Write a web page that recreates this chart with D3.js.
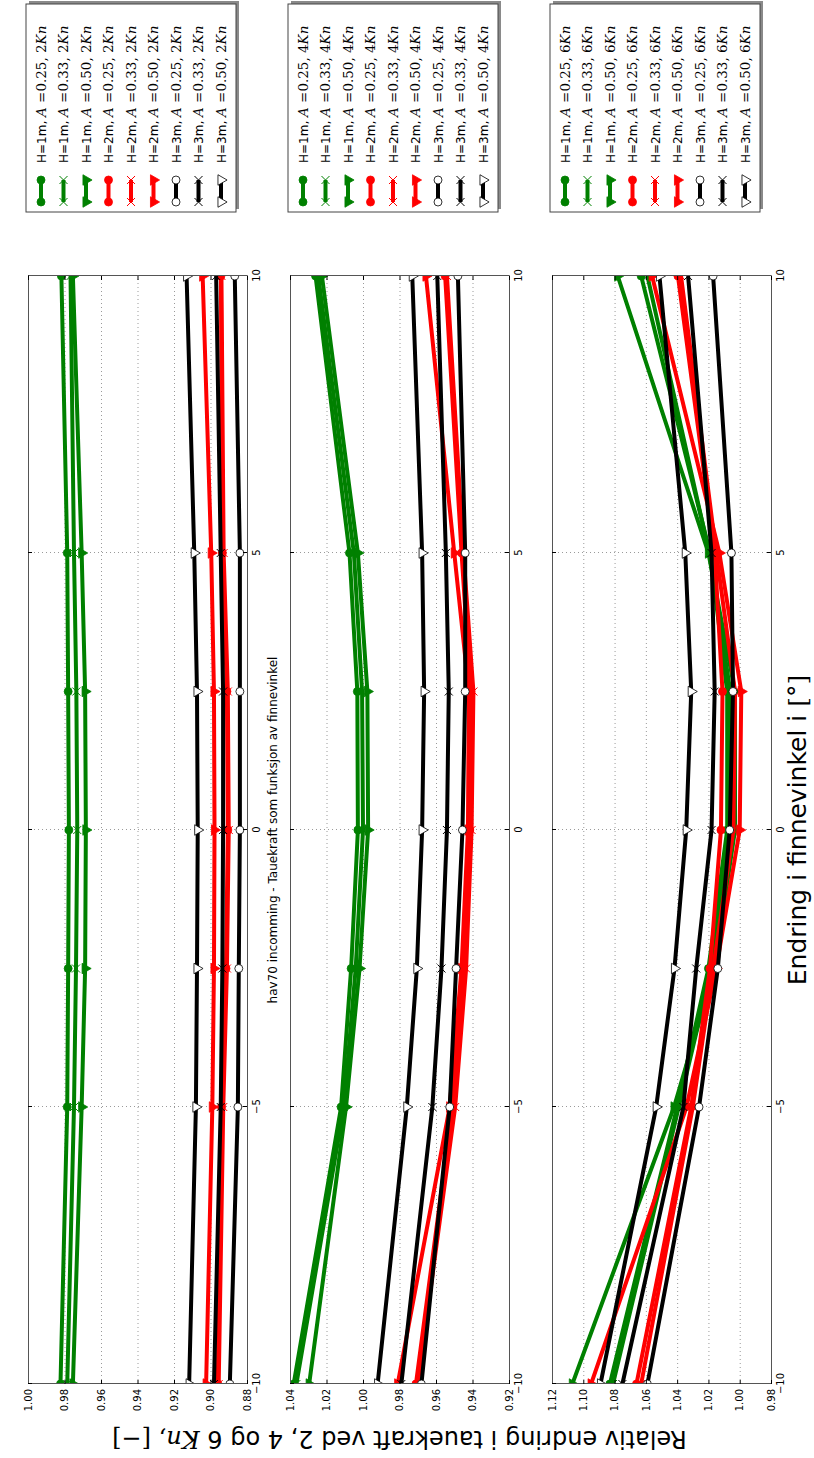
<!DOCTYPE html>
<html>
<head>
<meta charset="utf-8">
<script src="https://cdn.jsdelivr.net/npm/d3@7"></script>
<style>
  body { margin: 0; background: #fff; }
  svg { display: block; }
  text { font-family: "DejaVu Sans", sans-serif; fill: #000; }
  .math { font-family: "DejaVu Serif", "Liberation Serif", serif; }
</style>
</head>
<body>
<div id="chart"></div>
<script>
// Data: relative change in rope force vs. fin angle, for 2, 4 and 6 knots

const angles = [-10, -5, -2.5, 0, 2.5, 5, 10];
const xTicks = [-10, -5, 0, 5, 10];
const heights = ["1m", "2m", "3m"];
const areas = ["0.25", "0.33", "0.50"];
const speeds = ["2", "4", "6"];

// rows: H=1m A=.25, .33, .50 / H=2m ... / H=3m ...
const kn2 = [
  [0.9822, 0.9785, 0.9780, 0.9776, 0.9780, 0.9785, 0.9817],
  [0.9785, 0.9748, 0.9737, 0.9730, 0.9735, 0.9748, 0.9767],
  [0.9754, 0.9706, 0.9687, 0.9683, 0.9687, 0.9706, 0.9754],
  [0.8960, 0.8940, 0.8915, 0.8905, 0.8910, 0.8935, 0.8943],
  [0.8955, 0.8930, 0.8910, 0.8900, 0.8905, 0.8928, 0.8940],
  [0.9024, 0.8990, 0.8981, 0.8978, 0.8981, 0.8996, 0.9043],
  [0.8894, 0.8850, 0.8845, 0.8839, 0.8839, 0.8839, 0.8867],
  [0.8981, 0.8944, 0.8935, 0.8931, 0.8931, 0.8944, 0.8969],
  [0.9117, 0.9080, 0.9074, 0.9070, 0.9074, 0.9089, 0.9131],
];

const kn4 = [
  [1.0380, 1.0120, 1.0065, 1.0028, 1.0031, 1.0074, 1.0260],
  [1.0365, 1.0105, 1.0040, 1.0000, 1.0005, 1.0050, 1.0245],
  [1.0295, 1.0093, 1.0019, 0.9972, 0.9976, 1.0028, 1.0225],
  [0.9710, 0.9510, 0.9450, 0.9415, 0.9410, 0.9460, 0.9550],
  [0.9700, 0.9495, 0.9435, 0.9405, 0.9395, 0.9450, 0.9540],
  [0.9810, 0.9525, 0.9460, 0.9425, 0.9420, 0.9500, 0.9655],
  [0.9680, 0.9525, 0.9490, 0.9455, 0.9440, 0.9440, 0.9480],
  [0.9790, 0.9620, 0.9570, 0.9540, 0.9530, 0.9546, 0.9593],
  [0.9920, 0.9760, 0.9705, 0.9676, 0.9665, 0.9676, 0.9730],
];

const kn6 = [
  [1.0830, 1.0400, 1.0200, 1.0080, 1.0080, 1.0190, 1.0630],
  [1.0810, 1.0390, 1.0180, 1.0060, 1.0060, 1.0195, 1.0590],
  [1.1070, 1.0420, 1.0160, 1.0030, 1.0030, 1.0200, 1.0780],
  [1.0660, 1.0310, 1.0190, 1.0120, 1.0110, 1.0160, 1.0395],
  [1.0630, 1.0300, 1.0170, 1.0040, 1.0030, 1.0150, 1.0375],
  [1.0950, 1.0340, 1.0150, 1.0000, 0.9990, 1.0130, 1.0560],
  [1.0590, 1.0260, 1.0140, 1.0064, 1.0043, 1.0053, 1.0170],
  [1.0750, 1.0360, 1.0278, 1.0180, 1.0160, 1.0180, 1.0330],
  [1.0890, 1.0534, 1.0417, 1.0342, 1.0310, 1.0348, 1.0513],
];

const yTicks2 = [0.88, 0.90, 0.92, 0.94, 0.96, 0.98, 1.00];
const yTicks4 = [0.92, 0.94, 0.96, 0.98, 1.00, 1.02, 1.04];
const yTicks6 = [0.98, 1.00, 1.02, 1.04, 1.06, 1.08, 1.10, 1.12];

const panels = [
  { values: kn2, ticks: yTicks2, speed: speeds[0] },
  { values: kn4, ticks: yTicks4, speed: speeds[1] },
  { values: kn6, ticks: yTicks6, speed: speeds[2] },
];

// Figure is drawn unrotated (1458 x 814) and then turned 90 degrees
const figW = 1458;
const colors = ["#008000", "#ff0000", "#000000"];
const markers = ["circle", "x", "tri"];

const svg = d3
  .select("#chart")
  .append("svg")
  .attr("width", 814)
  .attr("height", 1458);

svg.append("rect").attr("width", 814).attr("height", 1458).attr("fill", "#fff");

const defs = svg.append("defs");
const fig = svg.append("g").attr("transform", `translate(0,${figW}) rotate(-90)`);

const plotLeft = 74;
const plotRight = 1182;
const panelTops = [28, 290, 552];
const panelH = 219;

const xScale = d3.scaleLinear().domain([-10, 10]).range([plotLeft, plotRight]);

function drawMarker(sel, kind, color, face, x, y) {
  if (kind === "circle") {
    sel.append("circle")
      .attr("cx", x).attr("cy", y).attr("r", 4)
      .attr("fill", face).attr("stroke", face === "#fff" ? "#000" : color)
      .attr("stroke-width", 0.8);
  } else if (kind === "tri") {
    sel.append("path")
      .attr("d", d3.symbol().type(d3.symbolTriangle).size(48)())
      .attr("transform", `translate(${x},${y}) rotate(180)`)
      .attr("fill", face).attr("stroke", face === "#fff" ? "#000" : color)
      .attr("stroke-width", 0.8);
  } else {
    sel.append("path")
      .attr("d", "M-4,-4L4,4M-4,4L4,-4")
      .attr("transform", `translate(${x},${y})`)
      .attr("fill", "none").attr("stroke", color)
      .attr("stroke-width", 1);
  }
}

panels.forEach((p, i) => {
  const top = panelTops[i];
  const yScale = d3.scaleLinear().domain(d3.extent(p.ticks)).range([top + panelH, top]);
  const g = fig.append("g");

  defs.append("clipPath").attr("id", "clip" + i)
    .append("rect")
    .attr("x", plotLeft).attr("y", top)
    .attr("width", plotRight - plotLeft).attr("height", panelH);

  // Grid

  g.append("g")
    .attr("transform", `translate(0,${top + panelH})`)
    .call(d3.axisBottom(xScale).tickValues(xTicks).tickSize(-panelH).tickFormat(""))
    .call((s) => s.select(".domain").remove())
    .selectAll("line")
    .attr("stroke", "#9a9a9a")
    .attr("stroke-dasharray", "1,3");

  g.append("g")
    .attr("transform", `translate(${plotLeft},0)`)
    .call(d3.axisLeft(yScale).tickValues(p.ticks).tickSize(-(plotRight - plotLeft)).tickFormat(""))
    .call((s) => s.select(".domain").remove())
    .selectAll("line")
    .attr("stroke", "#9a9a9a")
    .attr("stroke-dasharray", "1,3");

  // Series

  const plot = g.append("g").attr("clip-path", `url(#clip${i})`);
  const line = d3.line().x((d) => xScale(d[0])).y((d) => yScale(d[1]));

  p.values.forEach((vals, k) => {
    const color = colors[Math.floor(k / 3)];
    const kind = markers[k % 3];
    const face = Math.floor(k / 3) === 2 ? "#fff" : color;
    const pts = angles.map((a, j) => [a, vals[j]]);
    plot.append("path")
      .attr("d", line(pts))
      .attr("fill", "none")
      .attr("stroke", color)
      .attr("stroke-width", 4)
      .attr("stroke-linejoin", "round");
    pts.forEach((d) => drawMarker(plot, kind, color, face, xScale(d[0]), yScale(d[1])));
  });

  // Axis

  g.append("g")
    .attr("transform", `translate(0,${top + panelH})`)
    .call(d3.axisBottom(xScale).tickValues(xTicks).tickSize(-4).tickSizeOuter(0).tickPadding(6));
  g.append("g")
    .attr("transform", `translate(${plotLeft},0)`)
    .call(d3.axisLeft(yScale).tickValues(p.ticks).tickFormat(d3.format(".2f")).tickSize(-4).tickSizeOuter(0).tickPadding(5));
  g.append("g")
    .attr("transform", `translate(0,${top})`)
    .call(d3.axisTop(xScale).tickValues(xTicks).tickSize(-4).tickSizeOuter(0).tickFormat(""));
  g.append("g")
    .attr("transform", `translate(${plotRight},0)`)
    .call(d3.axisRight(yScale).tickValues(p.ticks).tickSize(-4).tickSizeOuter(0).tickFormat(""));

  g.selectAll(".domain").attr("stroke", "#555");
  g.selectAll(".tick text").style("font-family", '"DejaVu Sans", sans-serif').style("font-size", "10px");

  // Legend

  const lx = 1246, ly = top - 2, lw = 208, lh = 210;
  g.append("rect")
    .attr("x", lx + 3).attr("y", ly + 3).attr("width", lw).attr("height", lh)
    .attr("fill", "#8a8a8a");
  g.append("rect")
    .attr("x", lx).attr("y", ly).attr("width", lw).attr("height", lh)
    .attr("fill", "#fff").attr("stroke", "#444").attr("stroke-width", 1);

  p.values.forEach((vals, k) => {
    const color = colors[Math.floor(k / 3)];
    const kind = markers[k % 3];
    const face = Math.floor(k / 3) === 2 ? "#fff" : color;
    const cy = ly + 15 + k * 22.5;
    g.append("line")
      .attr("x1", lx + 10).attr("x2", lx + 32)
      .attr("y1", cy).attr("y2", cy)
      .attr("stroke", color).attr("stroke-width", 4);
    drawMarker(g, kind, color, face, lx + 10, cy);
    drawMarker(g, kind, color, face, lx + 32, cy);

    const t = g.append("text")
      .attr("x", lx + 49).attr("y", cy + 4.5)
      .style("font-size", "12px");
    t.append("tspan").text(`H=${heights[Math.floor(k / 3)]}, `);
    t.append("tspan").attr("class", "math").style("font-style", "italic").style("font-size", "13.5px").text("A");
    t.append("tspan").attr("class", "math").style("font-size", "13.5px").text(` =${areas[k % 3]}, `);
    t.append("tspan").attr("class", "math").style("font-size", "13.5px").text(" " + p.speed);
    t.append("tspan").attr("class", "math").style("font-style", "italic").style("font-size", "13.5px").text("Kn");
  });
});

// Titles

fig.append("text")
  .attr("x", (plotLeft + plotRight) / 2)
  .attr("y", 277)
  .attr("text-anchor", "middle")
  .style("font-size", "12px")
  .text("hav70 incomming - Tauekraft som funksjon av finnevinkel");

const xl = fig.append("text")
  .attr("x", (plotLeft + plotRight) / 2)
  .attr("y", 806)
  .attr("text-anchor", "middle")
  .style("font-size", "25px");
xl.append("tspan").text("Endring i finnevinkel i ");
xl.append("tspan").attr("class", "math").text("[°]");

const yl = fig.append("text")
  .attr("transform", `translate(27,${panelTops[1] + panelH / 2}) rotate(-90)`)
  .attr("text-anchor", "middle")
  .style("font-size", "24px");
yl.append("tspan").text("Relativ endring i tauekraft ved 2, 4 og 6 ");
yl.append("tspan").attr("class", "math").style("font-style", "italic").text("Kn");
yl.append("tspan").attr("class", "math").text(", [−]");
</script>
</body>
</html>
